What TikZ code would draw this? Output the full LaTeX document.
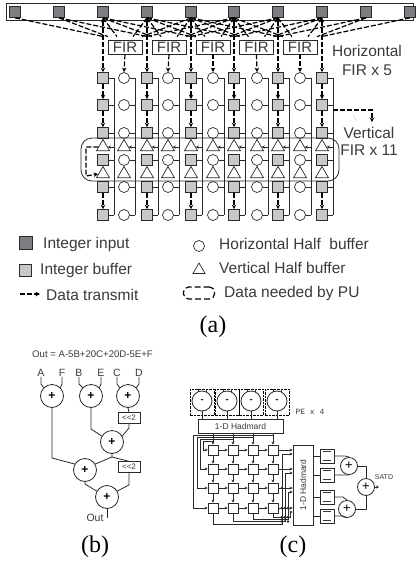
\documentclass[tikz,border=0pt]{standalone}
\usepackage{fontspec}
\setmainfont{Liberation Sans}
\newfontfamily\tms{Liberation Serif}
\newfontfamily\mon{Liberation Mono}
\usetikzlibrary{arrows.meta,shapes.geometric,calc}
\newcommand{\fs}[1]{\fontsize{#1}{#1}\selectfont}
\definecolor{ink}{HTML}{2A2A2A}
\definecolor{txt}{HTML}{3A3A3A}
\definecolor{dk}{HTML}{7E7E82}
\definecolor{lt}{HTML}{C8C8C8}
\tikzset{
 wire/.style={draw=ink,line width=0.8pt},
 dsh/.style={draw=black,line width=1.2pt,dash pattern=on 5pt off 2pt},
 atip/.style={-{Stealth[length=4.5pt,width=4.5pt]}},
 atipb/.style={{Stealth[length=4.5pt,width=4.5pt]}-{Stealth[length=4.5pt,width=4.5pt]}},
 insq/.style={rectangle,draw=ink,fill=dk,line width=0.7pt,minimum size=11pt,inner sep=0pt},
 busq/.style={rectangle,draw=ink,fill=lt,line width=0.7pt,minimum size=11pt,inner sep=0pt},
 hcirc/.style={circle,draw=ink,fill=white,line width=0.7pt,minimum size=11pt,inner sep=0pt},
 vtri/.style={regular polygon,regular polygon sides=3,draw=ink,fill=white,line width=0.7pt,minimum size=15pt,inner sep=0pt},
 firbox/.style={rectangle,draw=ink,fill=white,line width=0.7pt,minimum width=34pt,minimum height=14pt,inner sep=0pt,text=txt,font=\fs{15}},
 lab/.style={inner sep=0pt,text=txt,font=\fs{15.5}},
 captxt/.style={inner sep=0pt,text=black,font=\tms\fs{24}},
 adder/.style={circle,draw=ink,fill=white,line width=0.8pt,minimum size=23pt,inner sep=0pt,font=\fs{12}\bfseries},
 smalltxt/.style={inner sep=0pt,text=txt,font=\fs{9.6}},
 shbox/.style={rectangle,draw=ink,fill=white,line width=0.8pt,minimum width=22pt,minimum height=10.5pt,inner sep=0pt,text=txt,font=\fs{8}},
 cell/.style={rectangle,draw=ink,fill=white,line width=0.7pt,minimum size=10pt,inner sep=0pt},
 hbox/.style={rectangle,draw=ink,fill=white,line width=0.7pt,inner sep=0pt,text=txt,font=\fs{8.5}},
 subc/.style={circle,draw=ink,fill=white,line width=0.8pt,minimum size=20pt,inner sep=0pt,font=\fs{9}\bfseries},
 pebox/.style={rectangle,draw=black,line width=1pt,dash pattern=on 2.5pt off 1pt,minimum width=24pt,minimum height=26pt,inner sep=0pt},
 sumc/.style={circle,draw=ink,fill=white,line width=0.8pt,minimum size=17pt,inner sep=0pt,font=\fs{13}},
 obox/.style={rectangle,draw=ink,fill=white,line width=0.7pt,minimum width=14pt,minimum height=14pt,inner sep=0pt},
 stip/.style={-{Stealth[length=3pt,width=3pt]}},
}
\begin{document}
\begin{tikzpicture}[x=1pt,y=-1pt]
\useasboundingbox (0,0) rectangle (416,563);
% ---------- (a) top bar and inputs
\node[rectangle,draw=ink,fill=white,line width=0.8pt,minimum width=407pt,minimum height=17pt,inner sep=0pt] (bar) at (209.5,11.5) {};
\foreach \i/\x in {0/15,1/59,2/103,3/147,4/191,5/234,6/278,7/322,8/366,9/410}
  \node[insq] (I\i) at (\x,12) {};
% FIRs
\foreach \k/\x in {0/125,1/169,2/213,3/256.5,4/300}
  \node[firbox] (F\k) at (\x,47) {FIR};
% fan
\foreach \k in {0,...,4}{
  \pgfmathtruncatemacro{\a}{\k}\pgfmathtruncatemacro{\b}{\k+1}\pgfmathtruncatemacro{\c}{\k+2}
  \pgfmathtruncatemacro{\d}{\k+3}\pgfmathtruncatemacro{\e}{\k+4}\pgfmathtruncatemacro{\f}{\k+5}
  \draw[dsh] (I\a.south) -- ([shift={(-21,-3)}]F\k.north);
  \draw[dsh] (I\b.south) -- ([shift={(-17,-3)}]F\k.north);
  \draw[dsh] (I\c.south) -- ([shift={(-8,-3)}]F\k.north);
  \draw[dsh] (I\d.south) -- ([shift={(8,-3)}]F\k.north);
  \draw[dsh] (I\e.south) -- ([shift={(17,-3)}]F\k.north);
  \draw[dsh] (I\f.south) -- ([shift={(21,-3)}]F\k.north);
}
% grid
\foreach \c/\x in {0/103,1/124,2/147,3/168,4/191,5/213,6/234,7/257,8/278,9/300,10/322}{
  \coordinate (Vt\c) at (\x+11,78);
  \coordinate (Vb\c) at (\x+11,215);
  \draw[wire] (Vt\c) -- (Vb\c);
  \pgfmathtruncatemacro{\od}{mod(\c,2)}
  \ifnum\od=0\relax
    \tikzset{gn/.style={busq}}
  \else
    \tikzset{gn/.style={hcirc}}
  \fi
  \foreach \r/\y in {1/78,2/105,3/133,5/160,7/187,8/215}{
    \node[gn] (N\c-\r) at (\x,\y) {};
    \draw[wire] (N\c-\r.east) -- (N\c-\r.east -| Vt\c);
  }
  \foreach \r/\y in {4/147,6/174}{
    \node[vtri] (N\c-\r) at (\x,\y) {};
  }
  \draw[wire,stip] (N\c-4.east -| Vt\c) -- (N\c-4.east);
}
% vertical dashed arrows in the integer columns
\foreach \c/\i in {0/2,2/3,4/4,6/5,8/6,10/7}{
  \draw[dsh,atipb] (I\i.south) -- (N\c-1.north);
  \draw[dsh,atip] (N\c-1.south) -- (N\c-2.north);
  \draw[dsh,atip] (N\c-2.south) -- (N\c-3.north);
  \draw[dsh,atip] (N\c-7.south) -- (N\c-8.north);
}
% FIR to circle
\foreach \k/\c in {0/1,1/3,2/5,3/7,4/9}
  \draw[dsh,atip] (F\k.south) -- (N\c-1.north);
% rounded box
\node[rectangle,draw=ink,line width=0.8pt,rounded corners=11pt,minimum width=258pt,minimum height=43pt,inner sep=0pt] (PU) at (210,159.5) {};
\coordinate (Pa) at (86,147);
\coordinate (Pb) at (86,176);
\draw[dsh,atip] (N0-4.west) -- (Pa) -- (Pb) -- (N0-6.west);
% vertical FIR pointer
\coordinate (Ra) at (333,110);
\coordinate (Rb) at (372,110);
\coordinate (Rc) at (372,122);
\draw[dsh,atip] (Ra) -- (Rb) -- (Rc);
\draw[draw=lt,line width=0.5pt] (353,115) -- (357,121);
\node[lab] (th) at (367,51) {Horizontal};
\node[lab] (tf) at (367,70) {FIR x 5};
\node[lab] (tv) at (369,133) {Vertical};
\node[lab] (tw) at (369,150) {FIR x 11};
% legend
\node[insq,minimum size=13pt] (L1) at (25.5,242.5) {};
\node[lab,anchor=west] (L1t) at (43,244) {Integer input};
\node[busq,minimum size=12pt] (L2) at (25.5,270) {};
\node[lab,anchor=west] (L2t) at (40,270) {Integer buffer};
\coordinate (L3a) at (20,294);
\coordinate (L3b) at (40,294);
\draw[dsh,atip] (L3a) -- (L3b);
\node[lab,anchor=west] (L3t) at (46,295) {Data transmit};
\node[hcirc] (L4) at (199,246) {};
\node[lab,anchor=west] (L4t) at (219,244) {Horizontal Half\ \ buffer};
\node[vtri,minimum size=14pt] (L5) at (199,270) {};
\node[lab,anchor=west] (L5t) at (219,268) {Vertical Half buffer};
\node[rectangle,draw=black,line width=1.2pt,dash pattern=on 6pt off 3pt,rounded corners=5pt,minimum width=31pt,minimum height=12pt,inner sep=0pt] (L6) at (199,293) {};
\node[lab,anchor=west] (L6t) at (224,293) {Data needed by PU};
\node[captxt] (capa) at (213,327) {(a)};
% ---------- (b)
\node[smalltxt] (ftxt) at (92.5,354) {Out = A-5B+20C+20D-5E+F};
\node[lab,font=\fs{10.5}] (tA) at (41,373) {A};
\node[lab,font=\fs{10.5}] (tF) at (62,373) {F};
\node[lab,font=\fs{10.5}] (tB) at (79,373) {B};
\node[lab,font=\fs{10.5}] (tE) at (101,373) {E};
\node[lab,font=\fs{10.5}] (tC) at (117,373) {C};
\node[lab,font=\fs{10.5}] (tD) at (139,373) {D};
\node[adder] (a1) at (52,396) {+};
\node[adder] (a2) at (91,396) {+};
\node[adder] (a3) at (128,396) {+};
\node[shbox] (s1) at (129,418) {{<}{<}2};
\node[adder] (a4) at (112,442) {+};
\node[adder] (a5) at (85,470) {+};
\node[shbox] (s2) at (129,467) {{<}{<}2};
\node[adder] (a6) at (107,497) {+};
\node[lab,font=\fs{10.5}] (tO) at (95,518) {Out};
\coordinate (cA) at (41,384);\coordinate (cF) at (62,384);
\coordinate (cB) at (79,384);\coordinate (cE) at (101,384);
\coordinate (cC) at (117,384);\coordinate (cD) at (139,384);
\draw[wire] (tA) -- (cA) -- (a1.135);
\draw[wire] (tF) -- (cF) -- (a1.45);
\draw[wire] (tB) -- (cB) -- (a2.135);
\draw[wire] (tE) -- (cE) -- (a2.45);
\draw[wire] (tC) -- (cC) -- (a3.135);
\draw[wire] (tD) -- (cD) -- (a3.45);
\draw[wire] (a3.south) -- (s1.north);
\coordinate (j1) at (91,429);
\draw[wire] (a2.south) -- (j1) -- (a4.150);
\coordinate (j2) at (129,428);
\draw[wire] (s1.south) -- (j2) -- (a4.30);
\coordinate (j3) at (52,458);
\draw[wire] (a1.south) -- (j3) -- (a5.150);
\coordinate (j4) at (112,457);
\draw[wire] (a4.south) -- (j4) -- (a5.30);
\draw[wire] (j4) -- (s2.north);
\coordinate (j5) at (85,484);
\draw[wire] (a5.south) -- (j5) -- (a6.150);
\coordinate (j6) at (129,485);
\draw[wire] (s2.south) -- (j6) -- (a6.30);
\coordinate (j7) at (107,518);
\draw[wire] (a6.south) -- (j7);
\node[captxt] (capb) at (95,547) {(b)};
% ---------- (c)
\foreach \n/\x in {1/202,2/227,3/251,4/277}{
  \node[pebox] (P\n) at (\x,402) {};
  \node[subc] (C\n) at (\x,401) {-};
}
\node[hbox,minimum width=85pt,minimum height=14pt] (H1) at (240.5,426) {1-D Hadmard};
\foreach \n in {1,...,4}{
  \draw[wire] (C\n.south) -- (C\n.south |- H1.north);
  \draw[wire] ([xshift=-4]P\n.north) -- ([xshift=-4,yshift=-3]P\n.north);
  \draw[wire] ([xshift=4]P\n.north) -- ([xshift=4,yshift=-3]P\n.north);
}
\node[lab,font=\mon\fs{8}] (pe) at (310,412) {PE x 4};
\foreach \r/\y in {1/450,2/469,3/488,4/508}
  \foreach \c/\x in {1/213,2/233,3/253,4/273}
    \node[cell] (M\r\c) at (\x,\y) {};
\node[hbox,minimum width=20pt,minimum height=80pt] (H2) at (303,485) {};
\node[inner sep=0pt,text=txt,font=\fs{8.5},rotate=90] (H2t) at (303,485) {1-D Hadmard};
\foreach \r in {1,...,4}{
  \draw[wire,stip] (M\r1.east) -- (M\r2.west);
  \draw[wire,stip] (M\r2.east) -- (M\r3.west);
  \draw[wire,stip] (M\r3.east) -- (M\r4.west);
  \draw[wire,stip] (M\r4.east) -- (M\r4.east -| H2.west);
}
\foreach \c in {1,...,4}{
  \draw[wire,stip] (M1\c.south) -- (M2\c.north);
  \draw[wire,stip] (M2\c.south) -- (M3\c.north);
  \draw[wire,stip] (M3\c.south) -- (M4\c.north);
  \draw[wire,stip] (M1\c.north |- H1.south) -- (M1\c.north);
}
% left buses: Hadamard output branches to row inputs
\foreach \n/\b/\yy in {1/203/441,2/200/439,3/197/437,4/193/435}{
  \coordinate (Bt\n) at (\b,\yy);
  \draw[wire,stip] (M1\n.north |- Bt\n) -- (Bt\n) |- (M\n1.west);
}
% right buses: column outputs back to second Hadamard
\foreach \n/\b/\yy in {1/282/524,2/285/521.5,3/288/519.5,4/290/517}{
  \coordinate (Bb\n) at (\b,\yy);
  \coordinate (Bu\n) at ($(M\n4.east)+(0,4)$);
  \draw[wire,stip] (M4\n.south) |- (Bb\n) |- (Bu\n -| H2.west);
}
\foreach \px/\py in {282/488,282/508,285/508,288/508,282/517,285/517,288/517,282/519.5,285/519.5,288/521.5,282/521.5}
  \fill[ink] (\px,\py) circle (1.4pt);
% outputs
\foreach \n/\y in {1/456,2/475,3/497,4/516}{
  \node[obox] (O\n) at (327,\y) {};
  \draw[wire] (O\n.west -| H2.east) -- (O\n.west);
  \draw[draw=txt,line width=0.9pt] ([shift={(3,3)}]O\n.north west) -- ([shift={(-3,3)}]O\n.north east);
  \draw[draw=txt,line width=0.9pt] ([shift={(3,-3)}]O\n.south west) -- ([shift={(-3,-3)}]O\n.south east);
}
\node[sumc] (S1) at (349,466) {+};
\node[sumc] (S2) at (347,509) {+};
\node[sumc] (S3) at (366,487) {+};
\coordinate (k1) at (345,456);\coordinate (k2) at (345,475);
\coordinate (k3) at (343,497);\coordinate (k4) at (343,516);
\draw[wire] (O1.east) -- (k1) -- (S1.north);
\draw[wire] (O2.east) -- (k2) -- (S1.south);
\draw[wire] (O3.east) -- (k3) -- (S2.north);
\draw[wire] (O4.east) -- (k4) -- (S2.south);
\draw[wire] (S1.east) -| (S3.north);
\draw[wire] (S2.east) -| (S3.south);
\coordinate (outS) at (379,487);
\draw[wire,stip] (S3.east) -- (outS);
\node[lab,font=\fs{7}] (satd) at (384,477) {SATD};
\node[captxt] (capc) at (293,547) {(c)};
\end{tikzpicture}
\end{document}
